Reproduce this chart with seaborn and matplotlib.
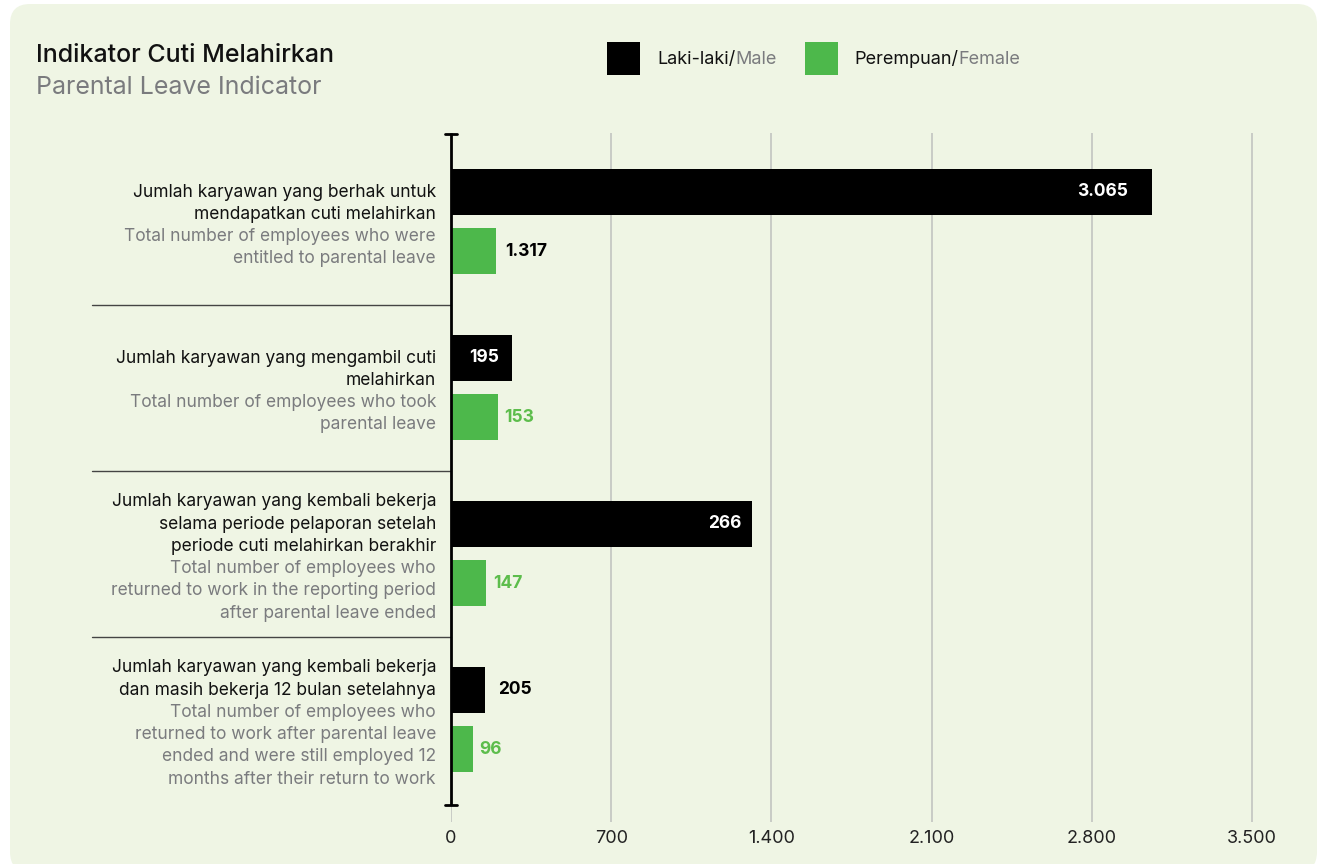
import matplotlib
matplotlib.use("Agg")
import matplotlib.pyplot as plt
from matplotlib.patches import FancyBboxPatch, Rectangle
from matplotlib.transforms import blended_transform_factory
import seaborn as sns
import pandas as pd

# ---------------- data ----------------
categories = ["Entitled", "Took leave", "Returned", "Retained 12 months"]
male_bar = [3065, 266, 1317, 147]       # bar lengths as drawn in the reference
female_bar = [195, 205, 153, 96]
male_labels = ["3.065", "195", "266", "205"]
female_labels = ["1.317", "153", "147", "96"]
x_ticks = [0, 700, 1400, 2100, 2800, 3500]
x_tick_labels = ["0", "700", "1.400", "2.100", "2.800", "3.500"]
cat_text_id = [
    ["Jumlah karyawan yang berhak untuk", "mendapatkan cuti melahirkan"],
    ["Jumlah karyawan yang mengambil cuti", "melahirkan"],
    ["Jumlah karyawan yang kembali bekerja", "selama periode pelaporan setelah",
     "periode cuti melahirkan berakhir"],
    ["Jumlah karyawan yang kembali bekerja", "dan masih bekerja 12 bulan setelahnya"],
]
cat_text_en = [
    ["Total number of employees who were", "entitled to parental leave"],
    ["Total number of employees who took", "parental leave"],
    ["Total number of employees who", "returned to work in the reporting period",
     "after parental leave ended"],
    ["Total number of employees who", "returned to work after parental leave",
     "ended and were still employed 12", "months after their return to work"],
]
series = ["Laki-laki/Male", "Perempuan/Female"]

# ---------------- style ----------------
BG = "#eff5e4"
BLACK = "#000000"
GREEN = "#4db84b"
GREEN_TXT = "#5dbd4c"
GRAY_TXT = "#7a7b7e"
DARK_TXT = "#111111"

sns.set_theme(style="white")
plt.rcParams["font.family"] = ["Inter", "DejaVu Sans"]

W, H = 1322, 864
fig = plt.figure(figsize=(W / 100, H / 100), dpi=100)
fig.patch.set_facecolor("white")

# card background (display pixel coordinates, origin bottom-left)
card = FancyBboxPatch((10, -8), 1307, 868,
                      boxstyle="round,pad=0,rounding_size=20",
                      transform=None, facecolor=BG, edgecolor="none", zorder=-10)
fig.patches.append(card)

ax_left, ax_right, ax_top, ax_bot = 451, 1286, 133, 822
ax = fig.add_axes([ax_left / W, (H - ax_bot) / H, (ax_right - ax_left) / W,
                   (ax_bot - ax_top) / H])
ax.set_facecolor("none")

df = pd.DataFrame({
    "category": categories * 2,
    "sex": [series[0]] * 4 + [series[1]] * 4,
    "value": male_bar + female_bar,
})
sns.barplot(data=df, y="category", x="value", hue="sex", order=categories,
            hue_order=series, palette=[BLACK, GREEN], orient="h",
            width=0.712, gap=0.22, legend=False, ax=ax, saturation=1,
            edgecolor="none", linewidth=0, zorder=3)

y0 = (ax_top - 221.5) / 166
y1 = (ax_bot - 221.5) / 166
ax.set_ylim(y1, y0)
ax.set_xlim(0, (ax_right - ax_left) / 160.2 * 700)

for s in ax.spines.values():
    s.set_visible(False)
ax.set_yticks([])
ax.set_ylabel("")
ax.set_xlabel("")
ax.set_xticks(x_ticks)
ax.set_xticklabels(x_tick_labels, fontsize=13, color="#222222")
ax.tick_params(axis="x", length=0, pad=6)

# vertical grid
for xt in x_ticks:
    ax.axvline(xt, color="#c2c4c0", lw=1.2, zorder=1)

# black axis with caps
axis_bottom = (805 - 221.5) / 166
ax.plot([0, 0], [y0, axis_bottom], color=BLACK, lw=2.0, zorder=5,
        solid_capstyle="butt", clip_on=False)
cap = 6 / 160.2 * 700
for yy in (y0 + 0.004, axis_bottom):
    ax.plot([-cap, cap], [yy, yy], color=BLACK, lw=2.0, zorder=5, clip_on=False)

# separator lines in label area
trans_sep = blended_transform_factory(fig.transFigure, ax.transData)
for yy in (0.5, 1.5, 2.5):
    ax.plot([92 / W, ax_left / W], [yy, yy], color="#444444", lw=1.0,
            transform=trans_sep, clip_on=False)

# value labels
bars = sorted(ax.patches, key=lambda p: p.get_y())
male_offsets = [-24, -13, -11, 13]
female_offsets = [10, 6, 7, 6]
male_colors = ["white", "white", "white", BLACK]
female_colors = [BLACK, GREEN_TXT, GREEN_TXT, GREEN_TXT]
for i in range(len(categories)):
    mb, fb = bars[2 * i], bars[2 * i + 1]
    for b, lab, off, col in ((mb, male_labels[i], male_offsets[i], male_colors[i]),
                             (fb, female_labels[i], female_offsets[i], female_colors[i])):
        ax.annotate(lab, xy=(b.get_width(), b.get_y() + b.get_height() / 2),
                    xytext=(off * 0.72, 0), textcoords="offset points",
                    ha="right" if off < 0 else "left", va="center",
                    fontsize=12.5, fontweight="bold", color=col, zorder=6)

# category labels
line_h = 22.3 / 166
for i in range(len(categories)):
    lines = [(t, DARK_TXT) for t in cat_text_id[i]] + [(t, GRAY_TXT) for t in cat_text_en[i]]
    n = len(lines)
    for k, (t, col) in enumerate(lines):
        yy = i + 0.024 + (k - (n - 1) / 2) * line_h
        ax.text(436 / W, yy, t, transform=trans_sep, ha="right", va="center",
                fontsize=12.5, color=col)

# title
fig.text(36 / W, 1 - 55 / H, "Indikator Cuti Melahirkan", fontsize=18,
         fontweight="medium", color=DARK_TXT, va="center", ha="left")
fig.text(36 / W, 1 - 87 / H, "Parental Leave Indicator", fontsize=18,
         color=GRAY_TXT, va="center", ha="left")

# legend
renderer = fig.canvas.get_renderer()
for (sx, tx, col, t1, t2) in ((607, 657, BLACK, "Laki-laki/", "Male"),
                              (805, 854, GREEN, "Perempuan/", "Female")):
    fig.patches.append(Rectangle((sx / W, 1 - 75 / H), 33 / W, 33 / H,
                                 transform=fig.transFigure, facecolor=col,
                                 edgecolor="none"))
    txt = fig.text(tx / W, 1 - 59 / H, t1, fontsize=13, color=DARK_TXT,
                   va="center", ha="left")
    bb = txt.get_window_extent(renderer=renderer)
    fig.text(bb.x1 / W, 1 - 59 / H, t2, fontsize=13, color=GRAY_TXT,
             va="center", ha="left")

fig.savefig("out.png", dpi=100, facecolor="white")
